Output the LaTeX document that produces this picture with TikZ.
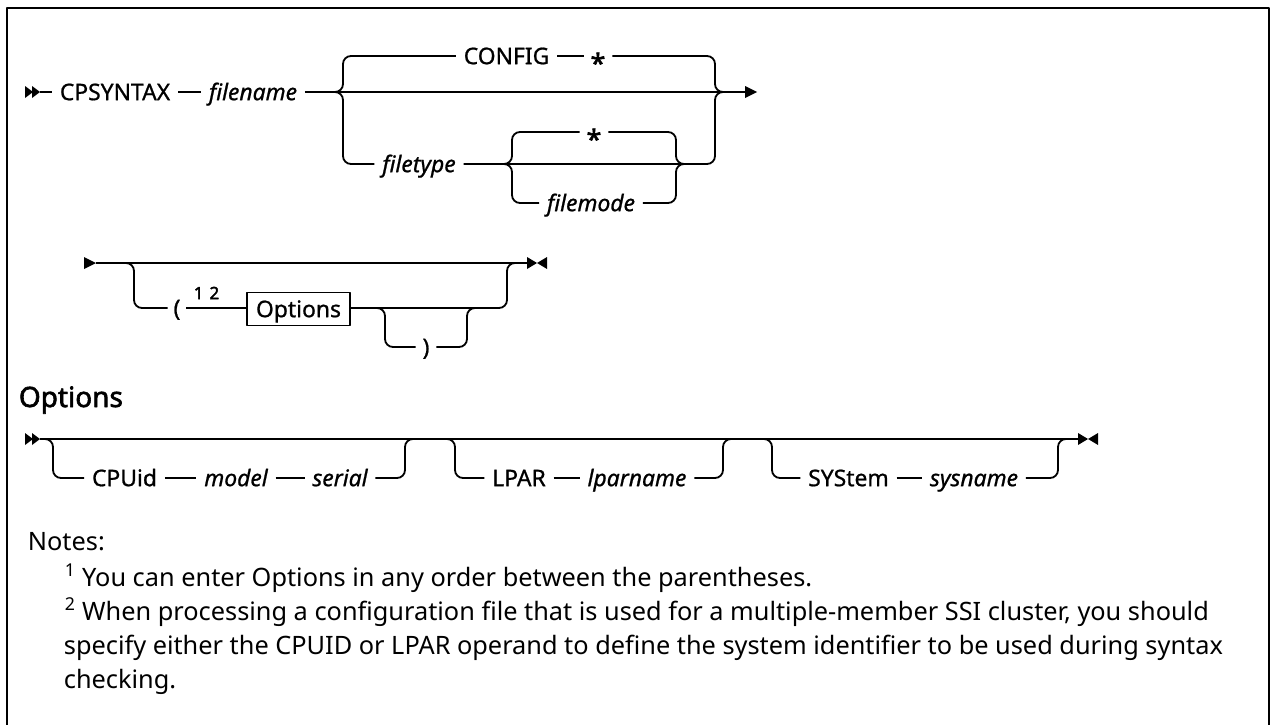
\documentclass[tikz,border=0pt]{standalone}
\usepackage{fontspec}
\setmainfont{Noto Sans}
\newfontfamily\medfam{Noto Sans}[FakeBold=0.9]
\newfontfamily\boldfam{Noto Sans}[FakeBold=2.2]
\newlength\wA
\newlength\wB
\newlength\wC
\newcommand\lblfont{\medfam\fontsize{\fsL}{\fsL}\selectfont}
\newcommand\headfont{\boldfam\fontsize{\fsH}{\fsH}\selectfont}
\newcommand\notefont{\normalfont\fontsize{\fsN}{\fsN}\selectfont}
\newcommand\supfont{\boldfam\fontsize{17}{17}\selectfont}
\newcommand\starfont{\boldfam\fontsize{27}{27}\selectfont}
\tikzset{
  lbl/.style={inner xsep=7pt, inner ysep=0pt, text height=\capH pt, text depth=0pt, font=\lblfont},
  var/.style={lbl, font=\lblfont\itshape},
  star/.style={lbl, inner xsep=6pt, font=\starfont},
  rc/.style={rounded corners=8pt},
  notetxt/.style={anchor=base west, inner sep=0pt, font=\notefont},
  tip/.style={fill=black, draw=none},
}
\begin{document}
\settowidth\wA{\medfam\fontsize{10}{12}\selectfont CPSYNTAX}%
\pgfmathsetmacro\fsL{1.06*10*104/\wA}%
\settowidth\wB{\boldfam\fontsize{10}{12}\selectfont Options}%
\pgfmathsetmacro\fsH{10*104/\wB}%
\settowidth\wC{\normalfont\fontsize{10}{12}\selectfont specify either the CPUID or LPAR operand to define the system identifier to be used during syntax}%
\pgfmathsetmacro\fsN{10*1159/\wC}%
\pgfmathsetmacro\capH{0.714*\fsL}%
\begin{tikzpicture}[x=1pt, y=-1pt, line width=1.8pt, line join=round]
\useasboundingbox (0,0) rectangle (1274,725);
% frame
\draw[line width=2pt] (7,725) -- (7,8) -- (1269,8) -- (1269,725);

% ---------- Row 1 ----------
\fill[tip] (25,86) -- (33,92) -- (25,98) -- cycle;
\fill[tip] (32,86) -- (40,92) -- (32,98) -- cycle;
\coordinate (s1) at (40,92);
\coordinate (e1) at (745,92);
\node[lbl] (cps) at (115,92) {CPSYNTAX};
\node[var] (fn) at (253,92) {filename};
\draw (s1) -- (cps.west);
\draw (cps.east) -- (fn.west);
\draw (fn.east) -- (e1);
\fill[tip] (745,86) -- (757,92) -- (745,98) -- cycle;

\node[lbl] (config) at (506.5,56) {CONFIG};
\node[star] (st1) at (598,56) {\raisebox{-0.33em}{*}};
\draw[rc] (333,92) -| (343,56) -- (config.west);
\draw (config.east) -- (st1.west);
\draw[rc] (st1.east) -| (715,92) -- (725,92);

\node[var] (ft) at (419,164) {filetype};
\draw[rc] (333,92) -| (343,164) -- (ft.west);
\draw[rc] (ft.east) -- (715,164) -- (715,92) -- (725,92);

\node[star] (st2) at (594,132) {\raisebox{-0.33em}{*}};
\node[var] (fm) at (591,203) {filemode};
\draw[rc] (504,164) -| (512,132) -- (st2.west);
\draw[rc] (504,164) -| (512,203) -- (fm.west);
\draw[rc] (st2.east) -| (676,164) -- (686,164);
\draw[rc] (fm.east) -| (676,164) -- (686,164);

% ---------- Row 2 ----------
\fill[tip] (84,257) -- (96,263) -- (84,269) -- cycle;
\coordinate (s2) at (96,263);
\coordinate (e2) at (527,263);
\draw (s2) -- (e2);
\fill[tip] (527,257) -- (537,263) -- (527,269) -- cycle;
\fill[tip] (547,257) -- (537,263) -- (547,269) -- cycle;

\node[lbl, inner xsep=5pt] (lp) at (177,308) {(};
\node[font=\supfont, inner sep=0pt] (sup) at (206.5,293) {1\hspace{6pt}2};
\node[lbl, draw, line width=1.3pt, minimum height=33pt, inner xsep=9pt] (opt) at (298.5,309) {Options};
\draw[rc] (126,263) -| (134,308) -- (lp.west);
\draw (lp.east) -- (opt.west |- lp.east);
\draw[rc] (opt.east |- lp.east) -| (507,263) -- (515,263);

\node[lbl, inner xsep=6pt] (rp) at (426,347) {)};
\draw[rc] (377,308) -| (385,347) -- (rp.west);
\draw[rc] (rp.east) -| (467,308) -- (475,308);

% ---------- Options ----------
\node[font=\headfont, anchor=base west, inner sep=0pt] (head) at (18,407) {Options};

\fill[tip] (25,433) -- (33,439) -- (25,445) -- cycle;
\fill[tip] (32,433) -- (40,439) -- (32,445) -- cycle;
\coordinate (s3) at (40,439);
\coordinate (e3) at (1078,439);
\draw (s3) -- (e3);
\fill[tip] (1078,433) -- (1088,439) -- (1078,445) -- cycle;
\fill[tip] (1098,433) -- (1088,439) -- (1098,445) -- cycle;

\node[lbl] (cpu) at (124.5,478) {CPUid};
\node[var] (mod) at (236,478) {model};
\node[var] (ser) at (340,478) {serial};
\draw[rc] (45,439) -| (53,478) -- (cpu.west);
\draw (cpu.east) -- (mod.west);
\draw (mod.east) -- (ser.west);
\draw[rc] (ser.east) -| (405,439) -- (413,439);

\node[lbl] (lpar) at (519,478) {LPAR};
\node[var] (lpn) at (637,478) {lparname};
\draw[rc] (447,439) -| (455,478) -- (lpar.west);
\draw (lpar.east) -- (lpn.west);
\draw[rc] (lpn.east) -| (723,439) -- (731,439);

\node[lbl] (sys) at (848.5,478) {SYStem};
\node[var] (sysn) at (974,478) {sysname};
\draw[rc] (764,439) -| (772,478) -- (sys.west);
\draw (sys.east) -- (sysn.west);
\draw[rc] (sysn.east) -| (1058,439) -- (1066,439);

% ---------- Notes ----------
\node[notetxt] (notes) at (27,550) {Notes:};
\node[notetxt] (n1) at (64,586) {\textsuperscript{1} You can enter Options in any order between the parentheses.};
\node[notetxt] (n2) at (64,620) {\textsuperscript{2} When processing a configuration file that is used for a multiple-member SSI cluster, you should};
\node[notetxt] (n3) at (63,654) {specify either the CPUID or LPAR operand to define the system identifier to be used during syntax};
\node[notetxt] (n4) at (63,688) {checking.};
\end{tikzpicture}
\end{document}
